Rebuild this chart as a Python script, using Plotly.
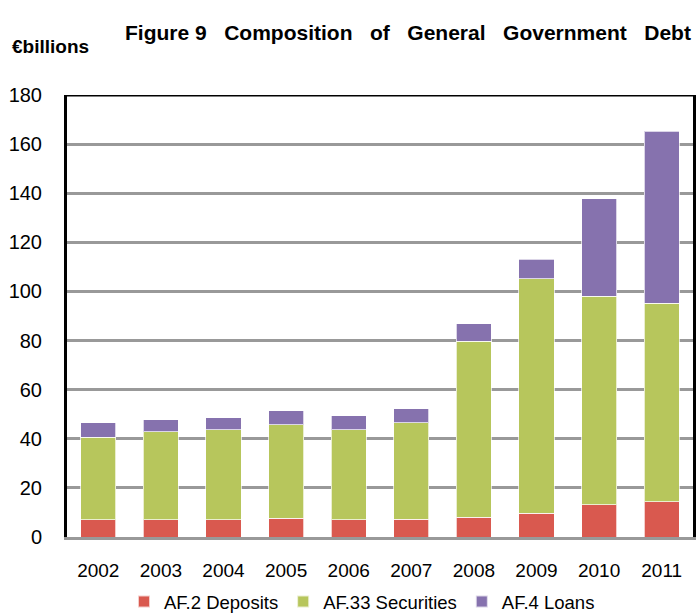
import plotly.graph_objects as go

years = ["2002", "2003", "2004", "2005", "2006", "2007", "2008", "2009", "2010", "2011"]
deposits = [7.0, 7.0, 7.0, 7.7, 7.0, 7.3, 8.0, 9.7, 13.1, 14.4]
securities = [33.6, 35.8, 36.6, 38.0, 36.6, 39.2, 71.7, 95.5, 84.9, 80.7]
loans = [5.9, 5.0, 4.9, 5.7, 5.7, 5.7, 7.2, 7.9, 39.8, 70.2]

series = [
    ("AF.2 Deposits", deposits, "#D9594F"),
    ("AF.33 Securities", securities, "#B7C65C"),
    ("AF.4 Loans", loans, "#8672AE"),
]

FONT = "Liberation Sans, Arial, sans-serif"

W, H = 696, 613
PL, PR, PT, PB = 67, 693, 95, 537


def px_x(x):
    return (x - PL) / (PR - PL)


def px_y(y):
    return (PB - y) / (PB - PT)


fig = go.Figure()
for name, vals, col in series:
    fig.add_trace(go.Bar(
        x=years, y=vals, name=name,
        marker=dict(color=col, line=dict(color="rgba(255,255,255,0.7)", width=1)),
    ))

fig.update_layout(
    barmode="stack",
    bargap=0.44,
    width=W, height=H,
    margin=dict(l=PL, r=W - PR, t=PT, b=H - PB, autoexpand=False),
    plot_bgcolor="white",
    paper_bgcolor="white",
    font=dict(family=FONT, color="black", size=19),
    showlegend=True,
    legend=dict(
        orientation="h", x=px_x(362), xanchor="center", y=px_y(602), yanchor="middle",
        font=dict(size=18.5), traceorder="normal",
        itemsizing="constant",
    ),
    xaxis=dict(
        showline=True, linecolor="#999999", linewidth=3,
        ticks="outside", ticklen=14, tickcolor="rgba(0,0,0,0)",
        tickfont=dict(size=19), showgrid=False,
    ),
    yaxis=dict(
        range=[0, 180], dtick=20, showgrid=True, gridcolor="#999999", gridwidth=3,
        showline=True, linecolor="black", linewidth=3, mirror=True,
        ticks="outside", ticklen=18, tickcolor="rgba(0,0,0,0)",
        tickfont=dict(size=20), zeroline=False,
    ),
    shapes=[dict(type="line", xref="paper", yref="y", x0=0, x1=1, y0=180, y1=180,
                 line=dict(color="black", width=3))],
    annotations=[
        dict(text="<b>Figure 9   Composition   of   General   Government   Debt</b>",
             xref="paper", yref="paper", x=px_x(693), y=px_y(32), xanchor="right", yanchor="middle",
             showarrow=False, font=dict(size=21)),
        dict(text="<b>€billions</b>", xref="paper", yref="paper",
             x=px_x(10), y=px_y(47), xanchor="left", yanchor="middle", showarrow=False,
             font=dict(size=19)),
    ],
)

fig.write_html(
    "out.html",
    config={"displayModeBar": False},
    post_script="document.body.style.margin='0';document.body.style.overflow='hidden';",
)
